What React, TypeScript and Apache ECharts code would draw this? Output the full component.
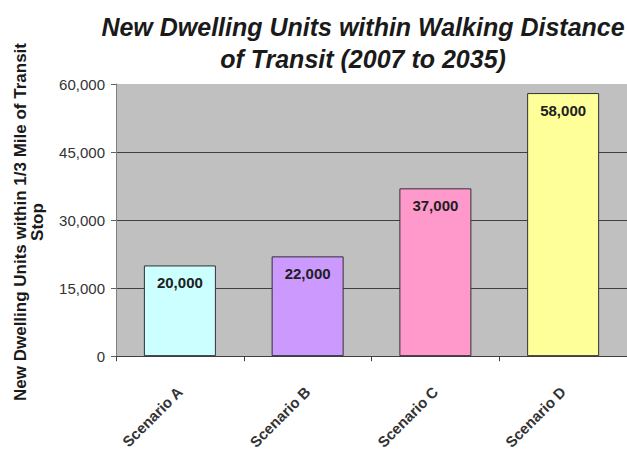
import React, { useEffect, useRef } from "react";
import * as echarts from "echarts";

const categories = ["Scenario A", "Scenario B", "Scenario C", "Scenario D"];
const values = [20000, 22000, 37000, 58000];
const barColors = ["#ccffff", "#cc99ff", "#ff99cc", "#ffff99"];
const titleLines = ["New Dwelling Units within Walking Distance", "of Transit (2007 to 2035)"];
const yAxisTitle = ["New Dwelling Units within 1/3 Mile of Transit", "Stop"];

const fmt = (v: number) => v.toLocaleString("en-US");

export default function App() {
  const ref = useRef<HTMLDivElement>(null);
  useEffect(() => {
    if (!ref.current) return;
    const chart = echarts.init(ref.current, null, { renderer: "svg" });
    const font = "Arial, 'Liberation Sans', sans-serif";
    chart.setOption({
      animation: false,
      backgroundColor: "#ffffff",
      title: {
        text: titleLines.join("\n"),
        left: 358,
        top: 6,
        textAlign: "center",
        textStyle: {
          fontFamily: font,
          fontSize: 25,
          fontWeight: "bold",
          fontStyle: "italic",
          color: "#1a1a1a",
          lineHeight: 32,
        },
      },
      graphic: [
        {
          type: "text",
          x: 29,
          y: 222,
          rotation: Math.PI / 2,
          style: {
            text: yAxisTitle.join("\n"),
            fontFamily: font,
            fontSize: 17,
            fontWeight: "bold",
            lineHeight: 17,
            fill: "#1a1a1a",
            textAlign: "center",
            textVerticalAlign: "middle",
          },
        },
      ],
      grid: {
        left: 116,
        top: 84,
        width: 522,
        height: 279,
        show: true,
        backgroundColor: "#c0c0c0",
        borderWidth: 0,
      },
      xAxis: {
        type: "category",
        data: categories,
        axisLine: { show: true, lineStyle: { color: "#404040", width: 1 } },
        axisTick: { show: true, alignWithLabel: false, length: 5, lineStyle: { color: "#404040" } },
        axisLabel: {
          rotate: 45,
          margin: 33,
          fontFamily: font,
          fontSize: 15,
          fontWeight: "bold",
          color: "#333333",
        },
      },
      yAxis: {
        type: "value",
        min: 0,
        max: 60000,
        interval: 15000,
        axisLine: { show: true, lineStyle: { color: "#808080", width: 1 } },
        axisTick: { show: true, length: 5, lineStyle: { color: "#606060" } },
        axisLabel: {
          margin: 11,
          fontFamily: font,
          fontSize: 15,
          color: "#333333",
          formatter: (v: number) => fmt(v),
        },
        splitLine: {
          show: true,
          lineStyle: {
            color: ["#404040", "#404040", "#404040", "#404040", "rgba(0,0,0,0)"],
            width: 1,
          },
        },
      },
      series: [
        {
          type: "bar",
          barWidth: 72,
          data: values.map((v, i) => ({
            value: v,
            itemStyle: { color: barColors[i], borderColor: "#303030", borderWidth: 1 },
          })),
          label: {
            show: true,
            position: "insideTop",
            distance: 10,
            fontFamily: font,
            fontSize: 15,
            fontWeight: "bold",
            color: "#202020",
            formatter: (p: any) => fmt(p.value),
          },
        },
      ],
    });
    return () => chart.dispose();
  }, []);
  return (
    <div
      ref={ref}
      style={{ position: "fixed", left: 0, top: 0, width: 627, height: 452 }}
    />
  );
}
